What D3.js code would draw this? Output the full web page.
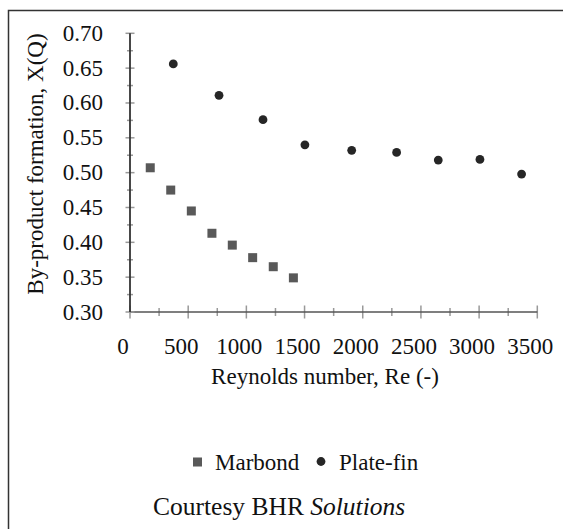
<!DOCTYPE html>
<html>
<head>
<meta charset="utf-8">
<script src="https://cdn.jsdelivr.net/npm/d3@7"></script>
<style>
  html, body { margin: 0; padding: 0; background: #fff; }
  svg { display: block; }
</style>
</head>
<body>
<svg id="chart" width="563" height="529"></svg>
<script>
// Reynolds number vs by-product formation for two heat-exchanger types
const marbondRe = [174, 350, 527, 704, 879, 1054, 1231, 1404];
const marbondX  = [0.507, 0.475, 0.445, 0.413, 0.396, 0.378, 0.365, 0.349];

const plateFinRe = [372, 765, 1143, 1503, 1905, 2291, 2649, 3007, 3365];
const plateFinX  = [0.656, 0.611, 0.576, 0.540, 0.532, 0.529, 0.518, 0.519, 0.498];

const xTicks = [0, 500, 1000, 1500, 2000, 2500, 3000, 3500];
const yTicks = [0.30, 0.35, 0.40, 0.45, 0.50, 0.55, 0.60, 0.65, 0.70];

const seriesNames = ["Marbond", "Plate-fin"];
const xTitle = "Reynolds number, Re (-)";
const yTitle = "By-product formation, X(Q)";
const credit = "Courtesy BHR ";
const creditItalic = "Solutions";

const FONT = "'Liberation Serif', 'Times New Roman', Tinos, 'DejaVu Serif', serif";
const fs = 23;

const svg = d3.select("#chart")
  .style("font-family", FONT)
  .attr("font-family", FONT);

function label(sel, size) {
  return sel.attr("font-family", FONT).style("font-family", FONT)
    .style("font-size", (size || fs) + "px").attr("fill", "#111");
}

// outer frame (runs off the right and bottom edges)
svg.append("rect")
  .attr("x", 8.5).attr("y", 10.5)
  .attr("width", 600).attr("height", 600)
  .attr("fill", "none").attr("stroke", "#333").attr("stroke-width", 1.5);

const plot = { left: 130, right: 537.3, top: 33.3, bottom: 312 };

const x = d3.scaleLinear().domain([0, 3500]).range([plot.left, plot.right]);
const y = d3.scaleLinear().domain([0.30, 0.70]).range([plot.bottom, plot.top]);

// x axis: major ticks every 500, minor every 250, ticks cross the axis
const xMinor = d3.range(250, 3500, 500);
svg.append("g").selectAll("line").data(xMinor).join("line")
  .attr("x1", d => x(d)).attr("x2", d => x(d))
  .attr("y1", plot.bottom - 4).attr("y2", plot.bottom + 4)
  .attr("stroke", "#999").attr("stroke-width", 1.5);
svg.append("g").selectAll("line").data(xTicks).join("line")
  .attr("x1", d => x(d)).attr("x2", d => x(d))
  .attr("y1", plot.bottom - 6.5).attr("y2", plot.bottom + 6.5)
  .attr("stroke", "#999").attr("stroke-width", 1.5);
svg.append("line")
  .attr("x1", plot.left).attr("x2", plot.right)
  .attr("y1", plot.bottom).attr("y2", plot.bottom)
  .attr("stroke", "#555").attr("stroke-width", 1.5);

// y axis with crossing ticks
const yMinor = d3.range(0.325, 0.70, 0.05);
svg.append("g").selectAll("line").data(yMinor).join("line")
  .attr("x1", plot.left - 3).attr("x2", plot.left + 3)
  .attr("y1", d => y(d)).attr("y2", d => y(d))
  .attr("stroke", "#999").attr("stroke-width", 1.5);
svg.append("g").selectAll("line").data(yTicks).join("line")
  .attr("x1", plot.left - 4.5).attr("x2", plot.left + 4.5)
  .attr("y1", d => y(d)).attr("y2", d => y(d))
  .attr("stroke", "#999").attr("stroke-width", 1.5);
svg.append("line")
  .attr("x1", plot.left).attr("x2", plot.left)
  .attr("y1", plot.top).attr("y2", plot.bottom)
  .attr("stroke", "#333").attr("stroke-width", 1.8);

// tick labels (x labels sit slightly left of their ticks)
label(svg.append("g").selectAll("text").data(xTicks).join("text"))
  .attr("x", d => x(d) - 7).attr("y", 346)
  .attr("text-anchor", "middle").attr("dominant-baseline", "central")
  .text(d => d3.format("d")(d));
label(svg.append("g").selectAll("text").data(yTicks).join("text"))
  .attr("x", 103).attr("y", d => y(d))
  .attr("text-anchor", "end").attr("dominant-baseline", "central")
  .text(d => d3.format(".2f")(d));

// axis titles
label(svg.append("text"))
  .attr("x", 325).attr("y", 376)
  .attr("text-anchor", "middle").attr("dominant-baseline", "central")
  .text(xTitle);
label(svg.append("text"))
  .attr("transform", "translate(35,164) rotate(-90)")
  .attr("text-anchor", "middle").attr("dominant-baseline", "central")
  .text(yTitle);

// data marks
const sq = 9;
svg.append("g").selectAll("rect").data(marbondRe).join("rect")
  .attr("x", d => x(d) - sq / 2)
  .attr("y", (d, i) => y(marbondX[i]) - sq / 2)
  .attr("width", sq).attr("height", sq)
  .attr("fill", "#595959");
svg.append("g").selectAll("circle").data(plateFinRe).join("circle")
  .attr("cx", d => x(d))
  .attr("cy", (d, i) => y(plateFinX[i]))
  .attr("r", 4.4)
  .attr("fill", "#262626");

// legend
const leg = svg.append("g");
leg.append("rect").attr("x", 193).attr("y", 457.5).attr("width", 9).attr("height", 9).attr("fill", "#595959");
label(leg.append("text")).attr("x", 215).attr("y", 462).attr("dominant-baseline", "central")
  .text(seriesNames[0]);
leg.append("circle").attr("cx", 321).attr("cy", 461.5).attr("r", 4.4).attr("fill", "#262626");
label(leg.append("text")).attr("x", 339).attr("y", 462).attr("dominant-baseline", "central")
  .text(seriesNames[1]);

// credit line
const cr = label(svg.append("text"), 25.5).attr("x", 153).attr("y", 506)
  .attr("dominant-baseline", "central");
cr.append("tspan").text(credit);
cr.append("tspan").style("font-style", "italic").text(creditItalic);
</script>
</body>
</html>
